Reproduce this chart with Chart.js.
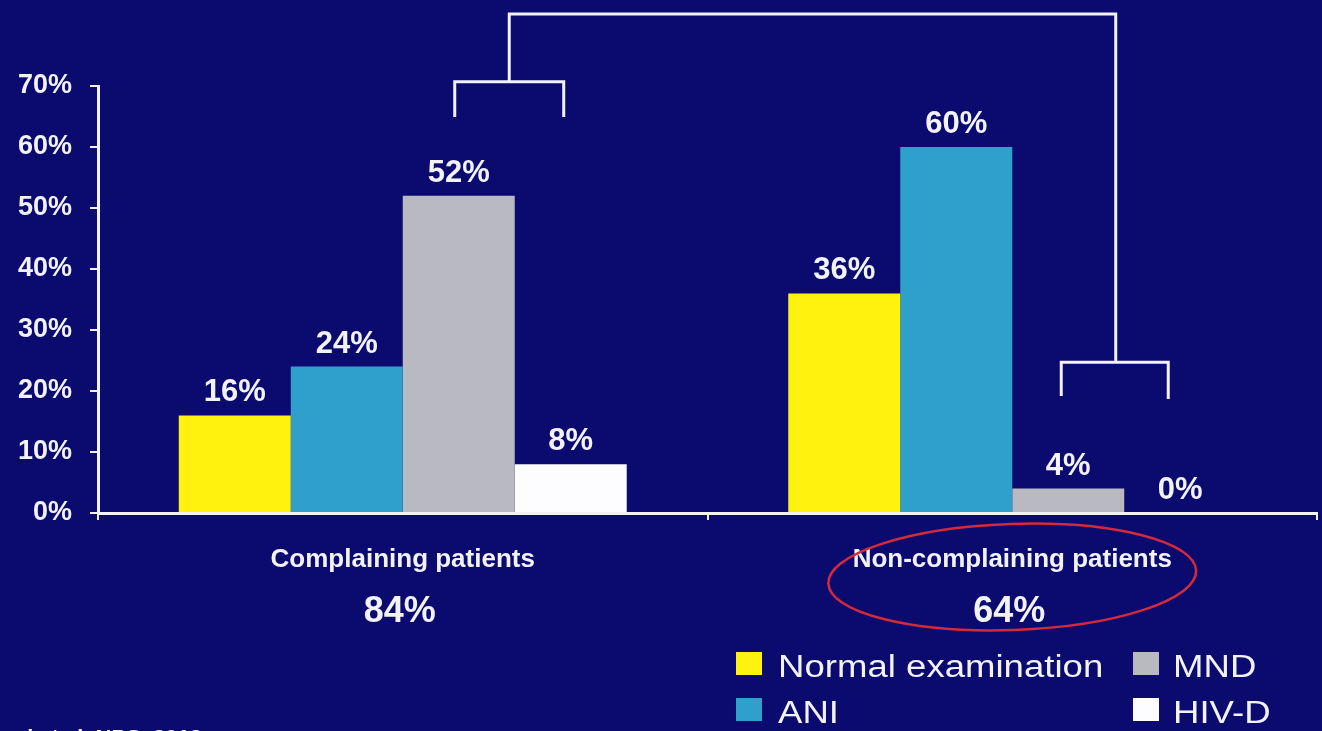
<!DOCTYPE html>
<html>
<head>
<meta charset="utf-8">
<title>Cognitive examination results</title>
<script src="https://cdn.jsdelivr.net/npm/chart.js@4/dist/chart.umd.min.js"></script>
<style>
  html, body { margin: 0; padding: 0; background: #0b0a6e; overflow: hidden; }
  #chart { display: block; }
</style>
</head>
<body>
<canvas id="chart" width="1322" height="731"></canvas>
<script>
// groups and their overall impairment rate
var categories = ['Complaining patients', 'Non-complaining patients'];
var groupTotals = [84, 64];

// one series per examination outcome (%)
var seriesNames = ['Normal examination', 'ANI', 'MND', 'HIV-D'];
var normalExam = [16, 36];
var ani = [24, 60];
var mnd = [52, 4];
var hivD = [8, 0];

var yTicks = [0, 10, 20, 30, 40, 50, 60, 70];

var seriesColors = ['#fff20f', '#2f9fcb', '#b9b9c2', '#fdfdff'];
var FONT = '"Liberation Sans", Arial, Helvetica, sans-serif';
var ink = '#f2f2fb';
var background = '#0b0a6e';

var backdrop = {
  id: 'backdrop',
  beforeDraw: function(chart) {
    var c = chart.ctx;
    c.save();
    c.fillStyle = background;
    c.fillRect(0, 0, chart.width, chart.height);
    c.restore();
  }
};

// percentage above every bar
var valueLabels = {
  id: 'valueLabels',
  afterDatasetsDraw: function(chart) {
    var c = chart.ctx;
    c.save();
    c.font = 'bold 31px ' + FONT;
    c.fillStyle = ink;
    c.textAlign = 'center';
    c.textBaseline = 'alphabetic';
    chart.data.datasets.forEach(function(ds, i) {
      chart.getDatasetMeta(i).data.forEach(function(bar, j) {
        c.fillText(ds.data[j] + '%', bar.x, bar.y - 14);
      });
    });
    c.restore();
  }
};

// comparison brackets joining MND and HIV-D of both groups
var brackets = {
  id: 'brackets',
  afterDatasetsDraw: function(chart) {
    var c = chart.ctx;
    var y = chart.scales.y;
    var m = chart.getDatasetMeta(2).data;
    var h = chart.getDatasetMeta(3).data;
    var a1 = m[0].x - 4, b1 = h[0].x - 7;
    var a2 = m[1].x - 7, b2 = h[1].x - 12;
    var c1 = (a1 + b1) / 2, c2 = (a2 + b2) / 2 + 1;
    var py = function(v) { return y.getPixelForValue(v); };

    c.save();
    c.strokeStyle = ink;
    c.lineWidth = 3;
    c.beginPath();
    c.moveTo(a1, py(64.9));
    c.lineTo(a1, py(70.7));
    c.lineTo(b1, py(70.7));
    c.lineTo(b1, py(64.9));
    c.moveTo(c1, py(70.7));
    c.lineTo(c1, py(81.8));
    c.lineTo(c2, py(81.8));
    c.lineTo(c2, py(24.7));
    c.moveTo(a2, py(19.2));
    c.lineTo(a2, py(24.7));
    c.lineTo(b2, py(24.7));
    c.lineTo(b2, py(18.7));
    c.stroke();
    c.restore();
  }
};

// group totals, legend, highlight ring and source line
var annotations = {
  id: 'annotations',
  afterDraw: function(chart) {
    var c = chart.ctx;
    var x = chart.scales.x;
    var bottom = chart.chartArea.bottom;
    c.save();

    c.fillStyle = ink;
    c.textAlign = 'center';
    c.textBaseline = 'alphabetic';
    c.font = 'bold 36px ' + FONT;
    groupTotals.forEach(function(t, j) {
      c.fillText(t + '%', x.getPixelForValue(j) - 3, bottom + 109);
    });

    // ring around the second group
    c.strokeStyle = '#d42a3a';
    c.lineWidth = 2.5;
    c.beginPath();
    c.ellipse(x.getPixelForValue(1), bottom + 64, 184, 53, -0.035, 0, Math.PI * 2);
    c.stroke();

    // legend: two columns, two rows, lettering set a little wide
    var cols = [{ box: 736, text: 778 }, { box: 1133, text: 1173 }];
    var rows = [652, 698];
    c.font = '31px ' + FONT;
    c.textAlign = 'left';
    chart.data.datasets.forEach(function(ds, i) {
      var col = cols[Math.floor(i / 2)];
      var ly = rows[i % 2];
      c.fillStyle = ds.backgroundColor;
      c.fillRect(col.box, ly, 26, 23);
      c.fillStyle = ink;
      c.save();
      c.translate(col.text, ly + 25);
      c.scale(1.18, 1);
      c.fillText(ds.label, 0, 0);
      c.restore();
    });

    c.font = 'bold 22px ' + FONT;
    c.textAlign = 'right';
    c.fillText('Simioni et al. NPS, 2013', 202, 745);

    c.restore();
  }
};

var tickFont = { family: FONT, size: 27, weight: 'bold' };

new Chart(document.getElementById('chart').getContext('2d'), {
  type: 'bar',
  data: {
    labels: categories,
    datasets: [normalExam, ani, mnd, hivD].map(function(values, i) {
      return {
        label: seriesNames[i],
        data: values,
        backgroundColor: seriesColors[i],
        borderWidth: 0
      };
    })
  },
  options: {
    responsive: false,
    animation: false,
    devicePixelRatio: 1,
    layout: { padding: { top: 86, right: 5, bottom: 0, left: 0 } },
    datasets: { bar: { categoryPercentage: 0.735, barPercentage: 1 } },
    plugins: {
      legend: { display: false },
      tooltip: { enabled: false }
    },
    scales: {
      x: {
        grid: { display: true, drawOnChartArea: false, drawTicks: true, tickLength: 7, color: ink, lineWidth: 2, offset: true },
        border: { display: true, color: ink, width: 3 },
        ticks: { color: ink, font: { family: FONT, size: 26, weight: 'bold' }, padding: 24, maxRotation: 0 },
        afterFit: function(s) { s.height = 218; }
      },
      y: {
        min: 0,
        max: 70,
        grid: { display: true, drawOnChartArea: false, drawTicks: true, tickLength: 8, color: ink, lineWidth: 2 },
        border: { display: true, color: ink, width: 3 },
        ticks: {
          color: ink,
          font: tickFont,
          padding: 18,
          callback: function(v) { return v + '%'; }
        },
        afterBuildTicks: function(s) {
          s.ticks = yTicks.map(function(v) { return { value: v }; });
        },
        afterFit: function(s) { s.width = 98; }
      }
    }
  },
  plugins: [backdrop, brackets, valueLabels, annotations]
});
</script>
</body>
</html>
